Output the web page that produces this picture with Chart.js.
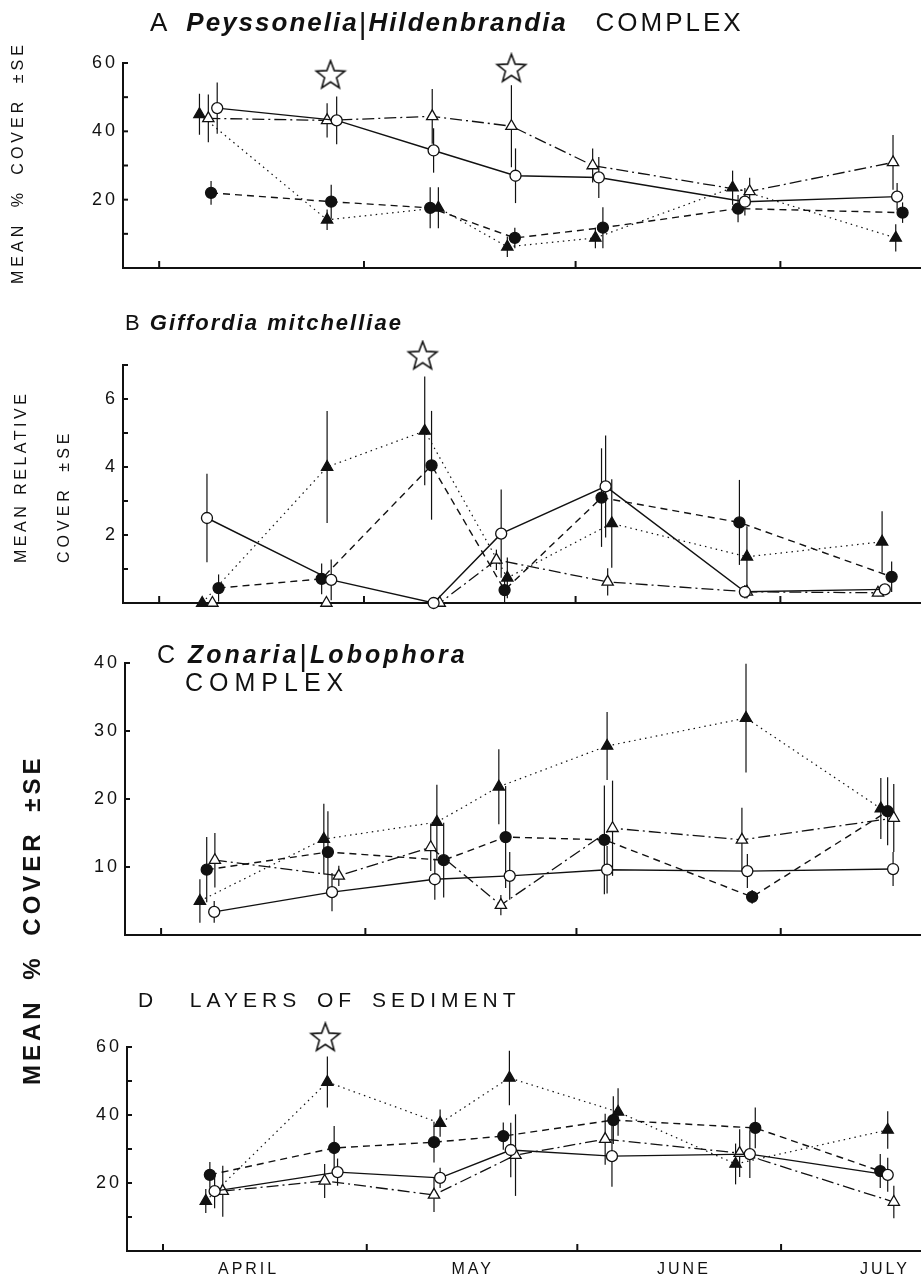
<!DOCTYPE html>
<html>
<head>
<meta charset="utf-8">
<script src="https://cdn.jsdelivr.net/npm/chart.js@4.4.1/dist/chart.umd.min.js"></script>
<style>
  body { margin: 0; background: #fff; }
  #wrap { position: relative; width: 921px; height: 1282px; overflow: hidden;
          font-family: "Liberation Sans", Arial, sans-serif; color: #111; }
  canvas { position: absolute; left: 0; }
  .t { position: absolute; white-space: pre; line-height: 1; }
  .rot { position: absolute; white-space: pre; line-height: 1;
         transform-origin: 0 0; transform: rotate(-90deg); }
  .sp { font-weight: bold; font-style: italic; }
  .sep { font-weight: normal; font-style: normal; font-size: 30px; vertical-align: -3px; }
</style>
</head>
<body>
<div id="wrap">
  <canvas id="cA" width="921" height="270" style="top:23px"></canvas>
  <canvas id="cB" width="921" height="303" style="top:325px"></canvas>
  <canvas id="cC" width="921" height="337" style="top:623px"></canvas>
  <canvas id="cD" width="921" height="275" style="top:1007px"></canvas>

  <div class="t" style="left:150px;top:9px;font-size:26px;letter-spacing:2px">A  <span class="sp">Peyssonelia</span><span class="sep">|</span><span class="sp">Hildenbrandia</span>   <span style="letter-spacing:3px">COMPLEX</span></div>
  <div class="t" style="left:125px;top:312px;font-size:22px;letter-spacing:2px">B <span class="sp">Giffordia mitchelliae</span></div>
  <div class="t" style="left:157px;top:641px;font-size:25px;letter-spacing:3px">C <span class="sp">Zonaria</span><span class="sep">|</span><span class="sp">Lobophora</span></div>
  <div class="t" style="left:185px;top:670px;font-size:25px;letter-spacing:6px">COMPLEX</div>
  <div class="t" style="left:138px;top:989px;font-size:21px;letter-spacing:5px;word-spacing:5px">D  LAYERS OF SEDIMENT</div>

  <div class="rot" style="left:10px;top:284px;font-size:16px;letter-spacing:4px;word-spacing:6px">MEAN % COVER ±SE</div>
  <div class="rot" style="left:13px;top:563px;font-size:16px;letter-spacing:3.5px">MEAN RELATIVE</div>
  <div class="rot" style="left:56px;top:563px;font-size:16px;letter-spacing:4px;word-spacing:6px">COVER ±SE</div>
  <div class="rot" style="left:20px;top:1085px;font-size:24px;font-weight:bold;letter-spacing:4px;word-spacing:8px">MEAN % COVER ±SE</div>
</div>

<script>
// days counted from 1 April; month boundaries get the tick marks
const monthEdges = [0, 30, 61, 91];
const monthMids = [12.6, 45.6, 76.7, 106.3];
const monthNames = ['APRIL', 'MAY', 'JUNE', 'JULY'];

// A  Peyssonelia/Hildenbrandia complex (mean % cover, SE)
const aOpenCircleDay = [8.5, 26.0, 40.2, 52.2, 64.4, 85.8, 108.1];
const aOpenCircleMean = [46.8, 43.2, 34.4, 27.0, 26.5, 19.4, 20.9];
const aOpenCircleSE = [7.5, 7, 6.5, 8, 6, 4, 4];
const aOpenTriDay = [7.2, 24.6, 40.0, 51.6, 63.5, 86.5, 107.5];
const aOpenTriMean = [43.8, 43.2, 44.4, 41.5, 30.0, 22.4, 30.9];
const aOpenTriSE = [7, 5, 8, 12, 5, 4, 8];
const aFilledCircleDay = [7.6, 25.2, 39.7, 52.1, 65.0, 84.8, 108.9];
const aFilledCircleMean = [22.0, 19.4, 17.6, 8.8, 11.8, 17.4, 16.2];
const aFilledCircleSE = [3.5, 5, 6, 3, 6, 4, 3];
const aFilledTriDay = [5.9, 24.6, 40.9, 51.0, 63.9, 84.0, 107.9];
const aFilledTriMean = [45.0, 14.1, 17.6, 6.2, 8.8, 23.5, 8.8];
const aFilledTriSE = [6, 3, 6, 3, 3, 5, 4];
const aStarDay = [25.1, 51.6];
const aStarHeight = [56.3, 58.2];

// B  Giffordia mitchelliae (mean relative cover, SE)
const bOpenCircleDay = [7.0, 25.2, 40.2, 50.1, 65.4, 85.8, 106.3];
const bOpenCircleMean = [2.5, 0.68, 0.0, 2.04, 3.43, 0.33, 0.4];
const bOpenCircleSE = [1.3, 0.6, 0, 1.3, 1.5, 0.2, 0.15];
const bOpenTriDay = [7.8, 24.5, 41.1, 49.4, 65.7, 86.1, 105.3];
const bOpenTriMean = [0, 0, 0, 1.27, 0.62, 0.33, 0.3];
const bOpenTriSE = [0, 0, 0, 0.3, 0.4, 0.2, 0.1];
const bFilledCircleDay = [8.7, 23.8, 39.9, 50.6, 64.8, 85.0, 107.3];
const bFilledCircleMean = [0.44, 0.71, 4.05, 0.38, 3.1, 2.37, 0.77];
const bFilledCircleSE = [0.4, 0.45, 1.6, 0.4, 1.45, 1.25, 0.45];
const bFilledTriDay = [6.3, 24.6, 38.9, 51.0, 66.3, 86.1, 105.9];
const bFilledTriMean = [0.0, 4.0, 5.06, 0.74, 2.34, 1.36, 1.8];
const bFilledTriSE = [0, 1.65, 1.6, 0.6, 1.3, 0.9, 0.9];
const bStarDay = [38.6];
const bStarHeight = [7.25];

// C  Zonaria/Lobophora complex
const cOpenCircleDay = [7.8, 25.1, 40.2, 51.2, 65.5, 86.1, 107.5];
const cOpenCircleMean = [3.4, 6.3, 8.2, 8.7, 9.6, 9.4, 9.7];
const cOpenCircleSE = [1.6, 2.8, 3, 3.5, 3.5, 2.5, 2.5];
const cOpenTriDay = [7.9, 26.1, 39.6, 49.9, 66.3, 85.3, 107.6];
const cOpenTriMean = [11.0, 8.7, 12.9, 4.4, 15.7, 14.0, 17.2];
const cOpenTriSE = [4, 1.5, 3.5, 1.5, 7, 4.7, 5];
const cFilledCircleDay = [6.7, 24.5, 41.5, 50.6, 65.1, 86.8, 106.7];
const cFilledCircleMean = [9.6, 12.2, 11.0, 14.4, 14.0, 5.6, 18.2];
const cFilledCircleSE = [4.8, 6, 5.5, 7.5, 8, 1, 5];
const cFilledTriDay = [5.7, 23.9, 40.5, 49.6, 65.5, 85.9, 105.7];
const cFilledTriMean = [5.0, 14.1, 16.6, 21.8, 27.8, 31.9, 18.6];
const cFilledTriSE = [3.2, 5.2, 5.5, 5.5, 5, 8, 4.5];
const cStarDay = [85.8];
const cStarHeight = [42.6];

// D  layers of sediment
const dOpenCircleDay = [7.6, 25.7, 40.8, 51.2, 66.1, 86.4, 106.7];
const dOpenCircleMean = [17.6, 23.2, 21.5, 29.7, 27.9, 28.5, 22.4];
const dOpenCircleSE = [5, 4, 3, 8, 9, 7, 5];
const dOpenTriDay = [8.8, 23.8, 39.9, 51.9, 65.1, 84.9, 107.6];
const dOpenTriMean = [17.6, 20.6, 16.5, 28.2, 32.9, 28.8, 14.4];
const dOpenTriSE = [7.5, 5, 5, 12, 7.5, 7, 4.8];
const dFilledCircleDay = [6.9, 25.2, 39.9, 50.1, 66.3, 87.2, 105.6];
const dFilledCircleMean = [22.4, 30.3, 32.0, 33.8, 38.5, 36.2, 23.5];
const dFilledCircleSE = [3.8, 6.5, 6, 4, 7, 6, 5];
const dFilledTriDay = [6.3, 24.2, 40.8, 51.0, 67.0, 84.3, 106.7];
const dFilledTriMean = [14.7, 49.7, 37.6, 50.9, 40.9, 25.6, 35.6];
const dFilledTriSE = [3.5, 7.5, 4, 8, 7, 6, 5.5];
const dStarDay = [23.9];
const dStarHeight = [62.6];

const INK = '#111';
const FONT = '"Liberation Sans", Arial, sans-serif';

const STYLE = {
  openCircle:   { pointStyle: 'circle',   fill: '#fff', dash: [],            width: 1.4, radius: 5.5 },
  openTri:      { pointStyle: 'triangle', fill: '#fff', dash: [12, 4, 2, 4], width: 1.3, radius: 6.5 },
  filledCircle: { pointStyle: 'circle',   fill: INK,    dash: [7, 5],        width: 1.4, radius: 5.5 },
  filledTri:    { pointStyle: 'triangle', fill: INK,    dash: [1.5, 4],      width: 1.2, radius: 6.5 }
};

function series(kind, days, means, se) {
  const s = STYLE[kind];
  return {
    data: days.map((d, i) => ({ x: d, y: means[i] })),
    se: se,
    borderColor: INK, borderWidth: s.width, borderDash: s.dash,
    pointStyle: s.pointStyle, pointRadius: s.radius,
    pointBackgroundColor: s.fill, pointBorderColor: INK, pointBorderWidth: 1.3,
    tension: 0, fill: false, clip: false
  };
}

function starImage(r) {
  const c = document.createElement('canvas');
  const size = Math.ceil(r * 2 + 4);
  c.width = c.height = size;
  const g = c.getContext('2d');
  g.beginPath();
  for (let k = 0; k < 10; k++) {
    const rad = k % 2 ? r * 0.42 : r;
    const a = -Math.PI / 2 + k * Math.PI / 5;
    g.lineTo(size / 2 + rad * Math.cos(a), size / 2 + rad * Math.sin(a));
  }
  g.closePath();
  g.fillStyle = '#fff';
  g.fill();
  g.lineWidth = 1.6;
  g.strokeStyle = INK;
  g.stroke();
  return c;
}
const STAR = starImage(15);

function stars(days, heights) {
  return {
    data: days.map((d, i) => ({ x: d, y: heights[i] })),
    showLine: false, pointStyle: STAR, pointRadius: 15, clip: false,
    borderColor: INK, backgroundColor: '#fff'
  };
}

// error bars, inward tick marks and spaced lettering
const decor = {
  id: 'decor',
  beforeDraw(chart) { chart.ctx.letterSpacing = '3px'; },
  beforeDatasetsDraw(chart) {
    const { ctx, chartArea, scales: { x, y } } = chart;
    ctx.save();
    ctx.strokeStyle = INK;
    ctx.setLineDash([]);
    ctx.lineWidth = 1.2;
    chart.data.datasets.forEach(ds => {
      if (!ds.se) return;
      ds.data.forEach((p, i) => {
        const e = ds.se[i];
        if (!e) return;
        const px = x.getPixelForValue(p.x);
        ctx.beginPath();
        ctx.moveTo(px, y.getPixelForValue(p.y + e));
        ctx.lineTo(px, y.getPixelForValue(Math.max(0, p.y - e)));
        ctx.stroke();
      });
    });
    ctx.lineWidth = 2;
    monthEdges.forEach(d => {
      const px = x.getPixelForValue(d);
      ctx.beginPath();
      ctx.moveTo(px, chartArea.bottom);
      ctx.lineTo(px, chartArea.bottom - 7);
      ctx.stroke();
    });
    y.ticks.forEach(t => {
      if (t.value === 0) return;
      const py = y.getPixelForValue(t.value);
      ctx.beginPath();
      ctx.moveTo(chartArea.left, py);
      ctx.lineTo(chartArea.left + 5, py);
      ctx.stroke();
    });
    ctx.restore();
  },
  afterDraw(chart) { chart.ctx.letterSpacing = '0px'; }
};

function makeChart(id, datasets, opt) {
  return new Chart(document.getElementById(id), {
    type: 'line',
    data: { datasets: datasets },
    plugins: [decor],
    options: {
      responsive: false, animation: false, events: [],
      layout: { autoPadding: false, padding: { top: 40, left: 0, right: 0, bottom: 0 } },
      plugins: { legend: { display: false }, tooltip: { enabled: false } },
      scales: {
        x: {
          type: 'linear', min: -5.3, max: 111.6,
          afterBuildTicks: s => { s.ticks = monthMids.map(v => ({ value: v })); },
          afterFit: s => { s.height = opt.xHeight; },
          grid: { display: false, drawTicks: false },
          border: { display: true, color: INK, width: 2 },
          ticks: {
            display: opt.months, autoSkip: false, maxRotation: 0, padding: 9,
            color: INK, font: { family: FONT, size: 16 },
            callback: (v, i) => monthNames[i]
          }
        },
        y: {
          min: 0, max: opt.yMax,
          afterFit: s => { s.width = opt.left; },
          grid: { display: false, drawTicks: false },
          border: { display: true, color: INK, width: 2 },
          ticks: {
            stepSize: opt.step, padding: 5, color: INK,
            font: { family: FONT, size: 18 },
            callback: v => opt.labels.includes(v) ? String(v) : ''
          }
        }
      }
    }
  });
}

makeChart('cA', [
  series('openCircle', aOpenCircleDay, aOpenCircleMean, aOpenCircleSE),
  series('openTri', aOpenTriDay, aOpenTriMean, aOpenTriSE),
  series('filledCircle', aFilledCircleDay, aFilledCircleMean, aFilledCircleSE),
  series('filledTri', aFilledTriDay, aFilledTriMean, aFilledTriSE),
  stars(aStarDay, aStarHeight)
], { yMax: 60, step: 10, labels: [20, 40, 60], left: 123, xHeight: 25, months: false });

makeChart('cB', [
  series('openCircle', bOpenCircleDay, bOpenCircleMean, bOpenCircleSE),
  series('openTri', bOpenTriDay, bOpenTriMean, bOpenTriSE),
  series('filledCircle', bFilledCircleDay, bFilledCircleMean, bFilledCircleSE),
  series('filledTri', bFilledTriDay, bFilledTriMean, bFilledTriSE),
  stars(bStarDay, bStarHeight)
], { yMax: 7, step: 1, labels: [2, 4, 6], left: 123, xHeight: 25, months: false });

makeChart('cC', [
  series('openCircle', cOpenCircleDay, cOpenCircleMean, cOpenCircleSE),
  series('openTri', cOpenTriDay, cOpenTriMean, cOpenTriSE),
  series('filledCircle', cFilledCircleDay, cFilledCircleMean, cFilledCircleSE),
  series('filledTri', cFilledTriDay, cFilledTriMean, cFilledTriSE),
  stars(cStarDay, cStarHeight)
], { yMax: 40, step: 10, labels: [10, 20, 30, 40], left: 125, xHeight: 25, months: false });

makeChart('cD', [
  series('openCircle', dOpenCircleDay, dOpenCircleMean, dOpenCircleSE),
  series('openTri', dOpenTriDay, dOpenTriMean, dOpenTriSE),
  series('filledCircle', dFilledCircleDay, dFilledCircleMean, dFilledCircleSE),
  series('filledTri', dFilledTriDay, dFilledTriMean, dFilledTriSE),
  stars(dStarDay, dStarHeight)
], { yMax: 60, step: 10, labels: [20, 40, 60], left: 127, xHeight: 31, months: true });
</script>
</body>
</html>
